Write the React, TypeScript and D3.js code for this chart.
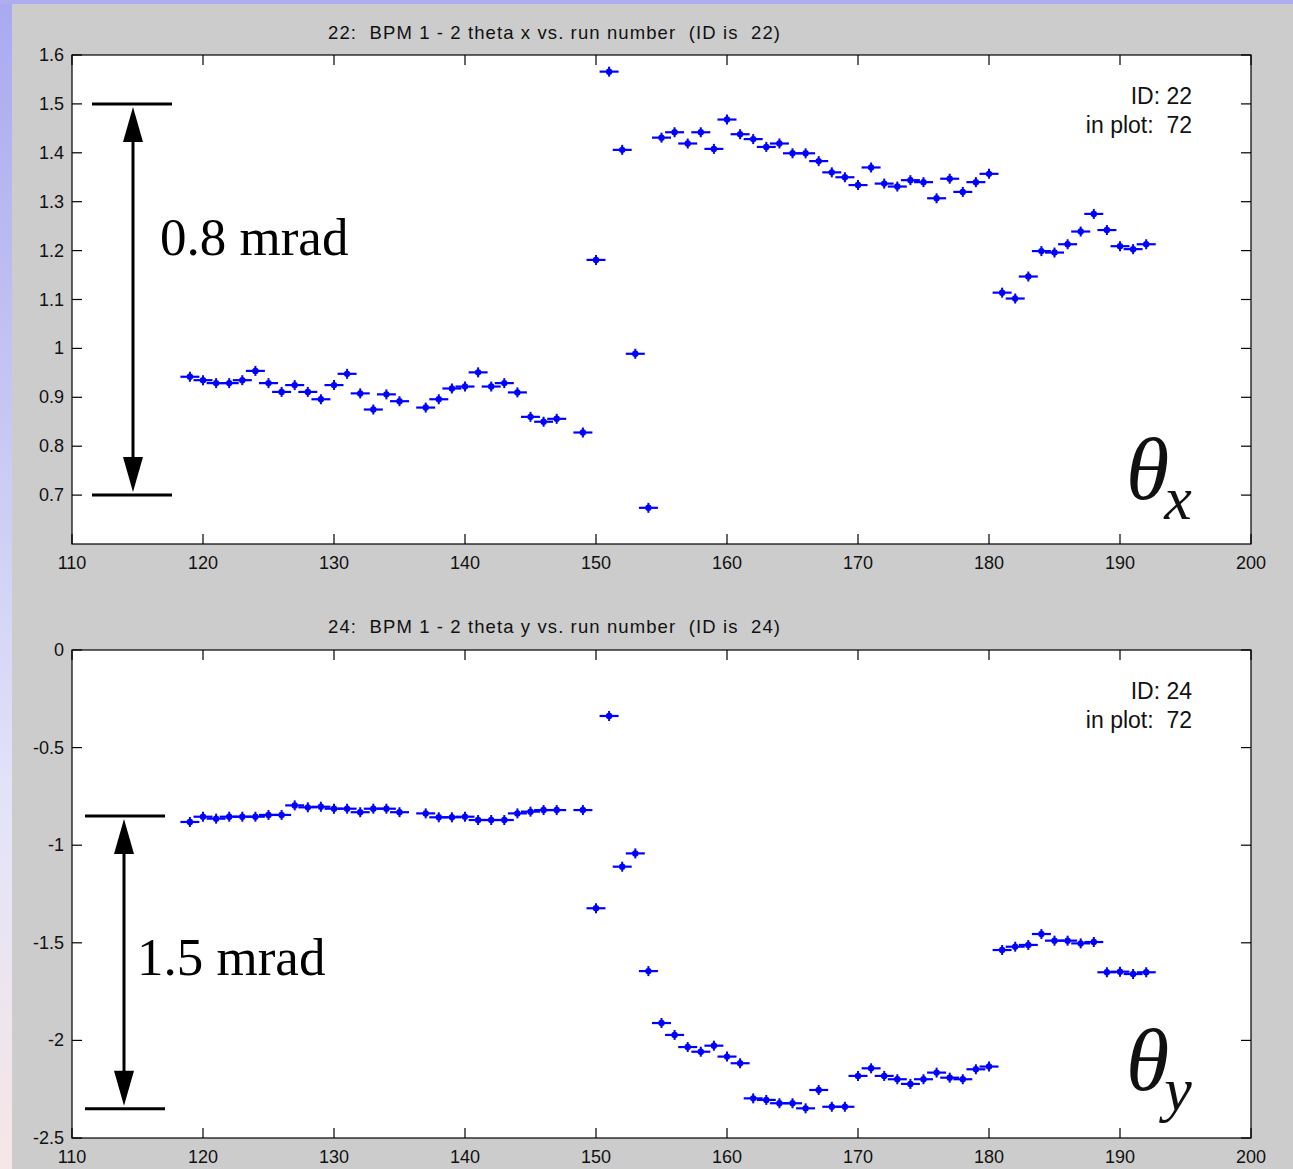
import React, { useEffect, useRef } from 'react'
import * as d3 from 'd3'

// run numbers shared by both panels (136 and 148 missing)
const runs = [
  119, 120, 121, 122, 123, 124, 125, 126, 127, 128, 129, 130, 131, 132, 133, 134, 135,
  137, 138, 139, 140, 141, 142, 143, 144, 145, 146, 147,
  149, 150, 151, 152, 153, 154, 155, 156, 157, 158, 159, 160, 161, 162, 163, 164, 165,
  166, 167, 168, 169, 170, 171, 172, 173, 174, 175, 176, 177, 178, 179, 180, 181, 182,
  183, 184, 185, 186, 187, 188, 189, 190, 191, 192,
]

const thetaX = [
  0.942, 0.935, 0.929, 0.929, 0.935, 0.954, 0.929, 0.911, 0.925, 0.911, 0.896, 0.925, 0.948, 0.908, 0.875, 0.906, 0.892,
  0.879, 0.896, 0.918, 0.922, 0.951, 0.922, 0.929, 0.910, 0.860, 0.850, 0.856,
  0.828, 1.181, 1.566, 1.406, 0.989, 0.674, 1.431, 1.442, 1.419, 1.442, 1.408, 1.468, 1.438, 1.428, 1.412, 1.419, 1.399,
  1.399, 1.383, 1.360, 1.350, 1.334, 1.370, 1.337, 1.331, 1.344, 1.340, 1.307, 1.347, 1.320, 1.340, 1.357, 1.114, 1.102,
  1.147, 1.199, 1.196, 1.213, 1.239, 1.275, 1.242, 1.209, 1.203, 1.213,
]

const thetaY = [
  -0.881, -0.854, -0.864, -0.854, -0.854, -0.854, -0.845, -0.845, -0.796, -0.806, -0.803, -0.813, -0.813, -0.831, -0.813, -0.813, -0.831,
  -0.837, -0.857, -0.857, -0.854, -0.871, -0.871, -0.871, -0.837, -0.828, -0.820, -0.820,
  -0.820, -1.323, -0.338, -1.110, -1.042, -1.645, -1.911, -1.972, -2.034, -2.058, -2.027, -2.083, -2.117, -2.297, -2.305, -2.322, -2.322,
  -2.348, -2.254, -2.340, -2.340, -2.182, -2.143, -2.182, -2.199, -2.223, -2.199, -2.165, -2.191, -2.199, -2.148, -2.134, -1.537, -1.520,
  -1.511, -1.455, -1.489, -1.489, -1.503, -1.496, -1.651, -1.648, -1.660, -1.651,
]

const xTicks = [110, 120, 130, 140, 150, 160, 170, 180, 190, 200]
const topYTicks = [0.7, 0.8, 0.9, 1, 1.1, 1.2, 1.3, 1.4, 1.5, 1.6]
const botYTicks = [-2.5, -2, -1.5, -1, -0.5, 0]

const panels = [
  {
    title: '22:  BPM 1 - 2 theta x vs. run number  (ID is  22)',
    id: '22', values: thetaX, domain: [0.6, 1.6], yTicks: topYTicks,
    top: 55, bottom: 544, titleY: 39,
    span: [0.7, 1.5], arrowX: 133, barX: [92, 172], label: '0.8 mrad', labelX: 160, labelY: 255,
    sub: 'x', thetaY: 499,
  },
  {
    title: '24:  BPM 1 - 2 theta y vs. run number  (ID is  24)',
    id: '24', values: thetaY, domain: [-2.5, 0], yTicks: botYTicks,
    top: 650, bottom: 1138, titleY: 633,
    span: [-2.35, -0.85], arrowX: 124, barX: [85, 165], label: '1.5 mrad', labelX: 137, labelY: 975,
    sub: 'y', thetaY: 1090,
  },
]

export default function App() {
  const svgRef = useRef(null)

  useEffect(() => {
    const svg = d3.select(svgRef.current)
    svg.selectAll('*').remove()

    const width = 1293
    const height = 1169
    const left = 72
    const right = 1251
    const sans = 'Liberation Sans, Arial, sans-serif'
    const serif = 'Liberation Serif, Times New Roman, serif'
    const fmt = (t: number) => d3.format('~g')(t).replace('\u2212', '-')

    const defs = svg.append('defs')
    const grad = defs.append('linearGradient')
      .attr('id', 'edge').attr('x1', 0).attr('y1', 0).attr('x2', 0).attr('y2', 1)
    grad.append('stop').attr('offset', '0%').attr('stop-color', '#a9a9f0')
    grad.append('stop').attr('offset', '70%').attr('stop-color', '#e4e4f8')
    grad.append('stop').attr('offset', '100%').attr('stop-color', '#f6e6e6')

    svg.append('rect').attr('width', width).attr('height', height).attr('fill', 'url(#edge)')
    svg.append('rect').attr('x', 0).attr('y', 0).attr('width', width).attr('height', 4).attr('fill', '#adadf0')
    svg.append('rect').attr('x', 12).attr('y', 4).attr('width', width - 12).attr('height', height - 4).attr('fill', '#cccccc')

    const x = d3.scaleLinear().domain([110, 200]).range([left, right])

    panels.forEach(p => {
      const y = d3.scaleLinear().domain(p.domain).range([p.bottom, p.top])
      const g = svg.append('g')

      g.append('rect')
        .attr('x', left).attr('y', p.top)
        .attr('width', right - left).attr('height', p.bottom - p.top)
        .attr('fill', '#ffffff').attr('stroke', '#000').attr('stroke-width', 1.2)

      // title
      g.append('text')
        .attr('x', 328).attr('y', p.titleY)
        .attr('font-family', sans).attr('font-size', 18.5)
        .attr('textLength', 452).attr('lengthAdjust', 'spacing')
        .attr('fill', '#111')
        .style('white-space', 'pre')
        .text(p.title)

      // x ticks (inward, top and bottom)
      xTicks.forEach(t => {
        g.append('line').attr('x1', x(t)).attr('x2', x(t)).attr('y1', p.bottom).attr('y2', p.bottom - 10)
          .attr('stroke', '#000').attr('stroke-width', 1.2)
        g.append('line').attr('x1', x(t)).attr('x2', x(t)).attr('y1', p.top).attr('y2', p.top + 10)
          .attr('stroke', '#000').attr('stroke-width', 1.2)
        g.append('text')
          .attr('x', x(t)).attr('y', p.bottom + 25)
          .attr('text-anchor', 'middle')
          .attr('font-family', sans).attr('font-size', 18).attr('fill', '#111')
          .text(t)
      })

      // y ticks (inward, left and right)
      p.yTicks.forEach(t => {
        g.append('line').attr('x1', left).attr('x2', left + 10).attr('y1', y(t)).attr('y2', y(t))
          .attr('stroke', '#000').attr('stroke-width', 1.2)
        g.append('line').attr('x1', right).attr('x2', right - 10).attr('y1', y(t)).attr('y2', y(t))
          .attr('stroke', '#000').attr('stroke-width', 1.2)
        g.append('text')
          .attr('x', 64).attr('y', y(t) + 6)
          .attr('text-anchor', 'end')
          .attr('font-family', sans).attr('font-size', 18).attr('fill', '#111')
          .text(fmt(t))
      })

      // ID box
      g.append('text')
        .attr('x', 1192).attr('y', p.top + 49)
        .attr('text-anchor', 'end')
        .attr('font-family', sans).attr('font-size', 23).attr('fill', '#111')
        .text(`ID: ${p.id}`)
      g.append('text')
        .attr('x', 1192).attr('y', p.top + 78)
        .attr('text-anchor', 'end')
        .attr('font-family', sans).attr('font-size', 23).attr('fill', '#111')
        .style('white-space', 'pre')
        .text('in plot:  72')

      // data points: horizontal bar, dot and small cross
      const pts = g.selectAll('.pt')
        .data(runs.map((r, i) => ({ r, v: p.values[i] })))
        .join('g')
        .attr('class', 'pt')
        .attr('transform', d => `translate(${x(d.r)},${y(d.v)})`)
      pts.append('line').attr('x1', -9.5).attr('x2', 9.5).attr('y1', 0).attr('y2', 0)
        .attr('stroke', '#0000ff').attr('stroke-width', 2.2)
      pts.append('line').attr('x1', 0).attr('x2', 0).attr('y1', -5).attr('y2', 5)
        .attr('stroke', '#0000ff').attr('stroke-width', 2)
      pts.append('circle').attr('r', 3.2).attr('fill', '#0000ff')

      // span annotation
      const yHi = y(p.span[1])
      const yLo = y(p.span[0])
      ;[yHi, yLo].forEach(yy => {
        g.append('line').attr('x1', p.barX[0]).attr('x2', p.barX[1]).attr('y1', yy).attr('y2', yy)
          .attr('stroke', '#000').attr('stroke-width', 3)
      })
      const ax = p.arrowX
      g.append('line').attr('x1', ax).attr('x2', ax).attr('y1', yHi + 20).attr('y2', yLo - 20)
        .attr('stroke', '#000').attr('stroke-width', 3)
      g.append('path')
        .attr('d', `M${ax},${yHi + 3} L${ax - 10},${yHi + 38} L${ax + 10},${yHi + 38} Z`)
        .attr('fill', '#000')
      g.append('path')
        .attr('d', `M${ax},${yLo - 3} L${ax - 10},${yLo - 38} L${ax + 10},${yLo - 38} Z`)
        .attr('fill', '#000')
      g.append('text')
        .attr('x', p.labelX).attr('y', p.labelY)
        .attr('font-family', serif).attr('font-size', 53).attr('fill', '#000')
        .text(p.label)

      // theta label with subscript
      const th = g.append('text')
        .attr('x', 1126).attr('y', p.thetaY)
        .attr('font-family', serif).attr('font-style', 'italic')
        .attr('font-size', 88).attr('fill', '#111')
      th.append('tspan').text('θ')
      th.append('tspan')
        .attr('dx', -5).attr('dy', 20)
        .attr('font-size', 62)
        .text(p.sub)
    })
  }, [])

  return (
    <svg
      ref={svgRef}
      width={1293}
      height={1169}
      style={{ position: 'absolute', left: 0, top: 0, display: 'block' }}
    />
  )
}
